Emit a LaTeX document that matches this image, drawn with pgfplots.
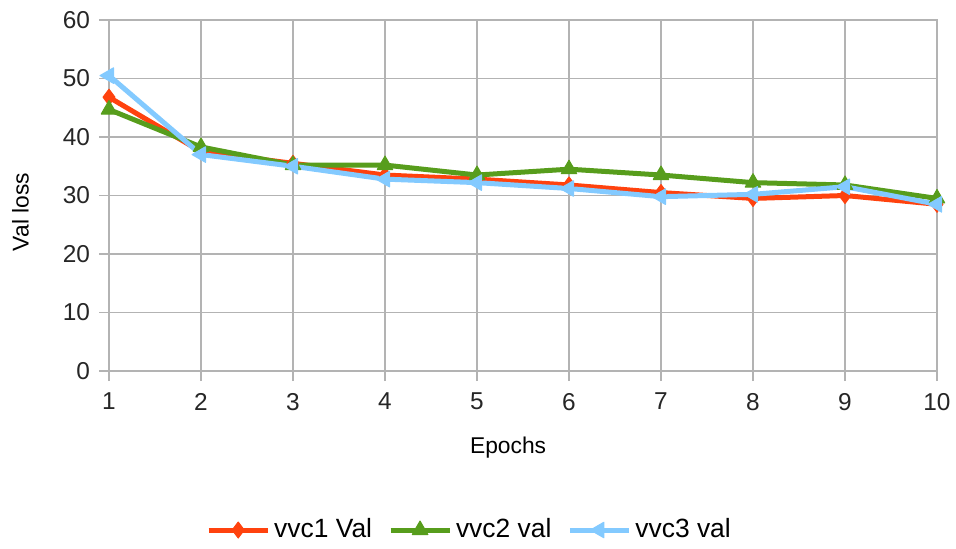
\documentclass[border=0pt]{standalone}
\usepackage{pgfplots}
\pgfplotsset{compat=1.18}
\usepackage{fontspec}
\setmainfont{Liberation Sans}
\definecolor{cred}{HTML}{FF420E}
\definecolor{cgreen}{HTML}{579D1C}
\definecolor{cblue}{HTML}{83CAFF}
\definecolor{cgrid}{HTML}{B3B3B3}
\begin{document}
\fontsize{11.4pt}{13pt}\selectfont
\begin{tikzpicture}
\path[use as bounding box] (0,0) rectangle (478pt,274pt);
\begin{axis}[
  at={(54.5pt,88.5pt)}, anchor=south west,
  scale only axis, width=414pt, height=175.5pt,
  xmin=1, xmax=10, ymin=0, ymax=60,
  xtick={1,...,10}, ytick={0,10,...,60},
  grid=major, major grid style={cgrid, line width=0.6pt},
  axis line style={cgrid, line width=0.6pt},
  tick style={cgrid, line width=0.6pt},
  tick align=outside, major tick length=5pt,
  xtick pos=bottom, ytick pos=left,
  tick label style={font=\fontsize{12.2pt}{14pt}\selectfont, text=black!85},
  /pgf/number format/assume math mode=true,
  xticklabel style={yshift=-2pt},
  yticklabel style={xshift=-0.5pt},
  xlabel={Epochs}, ylabel={Val loss},
  label style={font=\fontsize{11.4pt}{13pt}\selectfont},
  xlabel style={at={(axis description cs:0.482,-0.219)}, anchor=center},
  ylabel style={at={(axis description cs:-0.107,0.453)}, anchor=center, rotate=0},
  legend style={at={(axis description cs:0.4366,-0.453)}, anchor=center, draw=none,
    font=\fontsize{13.2pt}{15pt}\selectfont, legend columns=3,
    /tikz/every even column/.append style={column sep=6pt}},
  legend image code/.code={\draw[#1] (0pt,0pt) -- (29.5pt,0pt); \path[#1, mark repeat=1] plot coordinates {(14.75pt,0pt)};},
  every axis plot/.append style={line width=2.5pt, line join=round},
]
\addplot[cred, mark=diamond*, mark size=4pt, mark options={line width=0.5pt}] coordinates {
(1,46.8) (2,37.5) (3,35.5) (4,33.5) (5,32.8) (6,31.8) (7,30.5) (8,29.5) (9,30.0) (10,28.5)};
\addlegendentry{vvc1 Val}
\addplot[cgreen, mark=triangle*, mark size=4.5pt, mark options={line width=0.5pt}] coordinates {
(1,44.7) (2,38.3) (3,35.2) (4,35.2) (5,33.5) (6,34.5) (7,33.5) (8,32.2) (9,31.8) (10,29.5)};
\addlegendentry{vvc2 val}
\addplot[cblue, mark=triangle*, mark size=4.5pt, mark options={line width=0.5pt, rotate=90}] coordinates {
(1,50.5) (2,37.0) (3,35.0) (4,32.8) (5,32.2) (6,31.2) (7,29.8) (8,30.2) (9,31.5) (10,28.5)};
\addlegendentry{vvc3 val}
\end{axis}
\end{tikzpicture}
\end{document}
